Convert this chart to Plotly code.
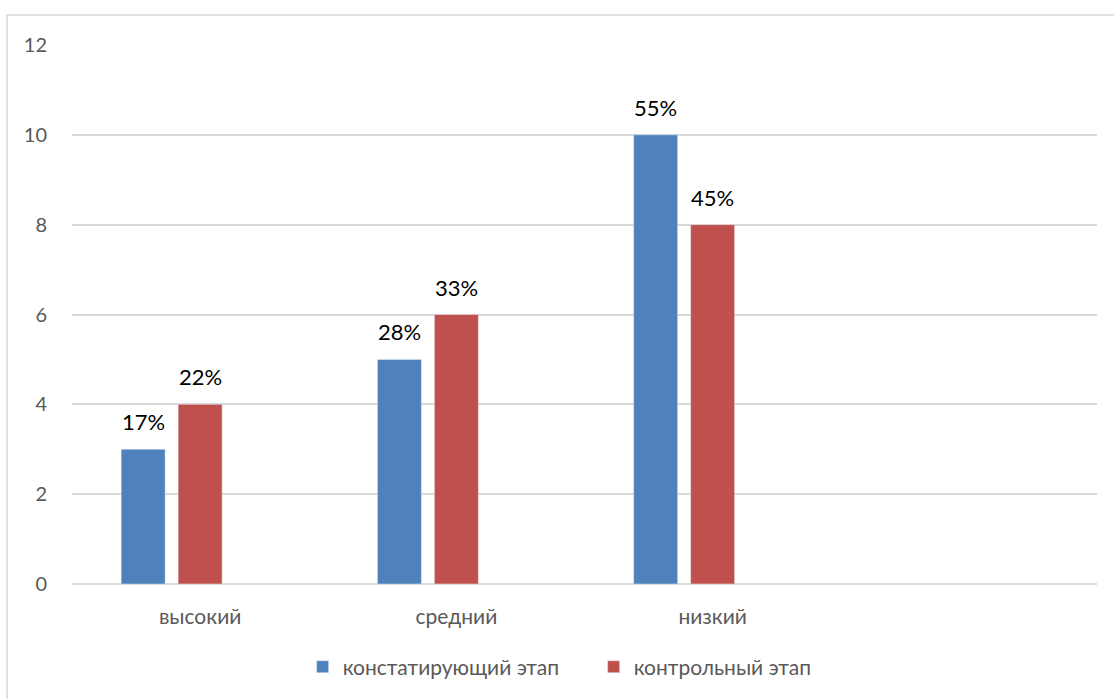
import plotly.graph_objects as go

categories = ["высокий", "средний", "низкий", " "]
series_names = ["констатирующий этап", "контрольный этап"]
values_const = [3, 5, 10, None]
values_ctrl = [4, 6, 8, None]
labels_const = ["17%", "28%", "55%", ""]
labels_ctrl = ["22%", "33%", "45%", ""]
colors = ["#4F81BD", "#C0504D"]
y_ticks = [0, 2, 4, 6, 8, 10, 12]

font_family = "Lato, Carlito, Calibri, sans-serif"

W, H = 1114, 699
ML, MR, MT, MB = 72, 17, 45, 114
BARGAP, GROUPGAP = 0.333, 0.228
N_SLOTS = 3  # two visible series + one empty series, as in the original

fig = go.Figure()
fig.add_trace(go.Bar(x=categories, y=values_const, name=series_names[0],
                     marker=dict(color=colors[0])))
fig.add_trace(go.Bar(x=categories, y=values_ctrl, name=series_names[1],
                     marker=dict(color=colors[1])))
fig.add_trace(go.Bar(x=categories, y=[None] * len(categories), name="",
                     showlegend=False, marker=dict(color="rgba(0,0,0,0)"),
                     hoverinfo="skip"))

# data labels, placed above each bar via annotations
plot_w = W - ML - MR
cat_w = plot_w / len(categories)
slot = cat_w * (1 - BARGAP) / N_SLOTS
shifts = [-slot, 0.0]
annotations = []
for vals, labs, sh in [(values_const, labels_const, shifts[0]),
                       (values_ctrl, labels_ctrl, shifts[1])]:
    for c, v, t in zip(categories, vals, labs):
        if v is None:
            continue
        annotations.append(dict(
            x=c, y=v, xref="x", yref="y", text=t, showarrow=False,
            xshift=sh, yshift=12, yanchor="bottom", xanchor="center",
            font=dict(size=22, color="#000000", family=font_family),
        ))

fig.update_layout(
    width=W, height=H,
    margin=dict(l=ML, r=MR, t=MT, b=MB),
    paper_bgcolor="white", plot_bgcolor="white",
    barmode="group", bargap=BARGAP, bargroupgap=GROUPGAP,
    font=dict(family=font_family, size=20, color="#595959"),
    showlegend=True,
    legend=dict(
        orientation="h", x=0.225, xanchor="left", y=-0.152, yanchor="middle",
        font=dict(size=21, color="#595959"), entrywidth=246,
        traceorder="normal",
    ),
    xaxis=dict(
        type="category", categoryorder="array", categoryarray=categories,
        range=[-0.5, 3.5], showgrid=False, showline=False, zeroline=False,
        ticks="", ticklabelstandoff=18,
        tickfont=dict(size=21, color="#595959"),
    ),
    yaxis=dict(
        range=[0, 12], tickvals=y_ticks, showgrid=True, gridcolor="#D9D9D9",
        gridwidth=1.5, zeroline=True, zerolinecolor="#D9D9D9", zerolinewidth=1.5,
        showline=False, ticks="", ticklabelstandoff=24,
        tickfont=dict(size=20, color="#595959"),
    ),
    annotations=annotations,
    shapes=[dict(
        type="rect", xref="paper", yref="paper",
        x0=-0.0634, x1=1.2, y0=-0.4, y1=1.0556,
        line=dict(color="#D9D9D9", width=1.5), fillcolor="rgba(0,0,0,0)",
        layer="below",
    )],
)

fig.write_html("out.html", config={"displayModeBar": False},
               post_script="document.body.style.margin='0';")
